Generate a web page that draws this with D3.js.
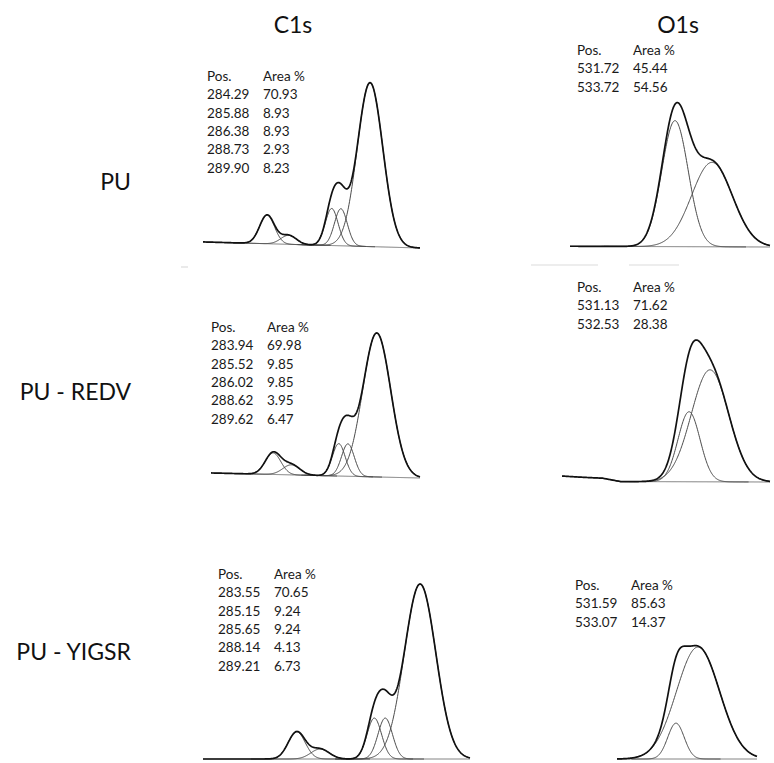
<!DOCTYPE html>
<html><head><meta charset="utf-8">
<script src="https://cdn.jsdelivr.net/npm/d3@7"></script>
<style>body{margin:0;background:#fff}svg{display:block}</style>
</head><body><svg id="c" width="774" height="763"></svg>
<script>
// ---------------- DATA ----------------
const columnTitles = ["C1s", "O1s"];
const sampleNames = ["PU", "PU - REDV", "PU - YIGSR"];
const tableHeaders = ["Pos.", "Area %"];

// C1s – PU
const c1sPU_pos    = [284.29, 285.88, 286.38, 288.73, 289.90];
const c1sPU_area   = [70.93, 8.93, 8.93, 2.93, 8.23];
const c1sPU_height = [100, 22.6, 22.6, 5.5, 17.5];      // relative intensity
const c1sPU_fwhm   = [1.63, 0.82, 0.82, 1.0, 0.95];     // eV
const c1sPU_range  = [293.39, 281.57];                  // binding energy shown (eV)
const c1sPU_bg     = [[293.39, 3.7], [281.57, 0]];

// O1s – PU
const o1sPU_pos    = [531.72, 533.72];
const o1sPU_area   = [45.44, 54.56];
const o1sPU_height = [67, 100];
const o1sPU_fwhm   = [2.6, 1.68];
const o1sPU_range  = [539.4, 528.58];
const o1sPU_bg     = [[539.4, 0.6], [528.58, 0]];

// C1s – PU-REDV
const c1sREDV_pos    = [283.94, 285.52, 286.02, 288.62, 289.62];
const c1sREDV_area   = [69.98, 9.85, 9.85, 3.95, 6.47];
const c1sREDV_height = [100, 22.5, 22.5, 7, 15];
const c1sREDV_fwhm   = [1.8, 0.82, 0.82, 1.1, 1.0];
const c1sREDV_range  = [293.02, 281.57];
const c1sREDV_bg     = [[293.02, 3.5], [281.57, 0]];

// O1s – PU-REDV
const o1sREDV_pos    = [531.13, 532.53];
const o1sREDV_area   = [71.62, 28.38];
const o1sREDV_height = [100, 62.5];
const o1sREDV_fwhm   = [2.93, 1.73];
const o1sREDV_range  = [541.0, 527.13];
const o1sREDV_bg     = [[541.0, 5.3], [539.6, 4.2], [538.3, 3.4], [537.1, 0.4], [527.13, 0]];

// C1s – PU-YIGSR
const c1sYIGSR_pos    = [283.55, 285.15, 285.65, 288.14, 289.21];
const c1sYIGSR_area   = [70.65, 9.24, 9.24, 4.13, 6.73];
const c1sYIGSR_height = [100, 23.4, 23.4, 5.7, 15.5];
const c1sYIGSR_fwhm   = [1.7, 0.78, 0.78, 1.0, 0.92];
const c1sYIGSR_range  = [293.51, 281.26];
const c1sYIGSR_bg     = [[293.51, 0], [281.26, 0]];

// O1s – PU-YIGSR
const o1sYIGSR_pos    = [531.59, 533.07];
const o1sYIGSR_area   = [85.63, 14.37];
const o1sYIGSR_height = [100, 32];
const o1sYIGSR_fwhm   = [3.4, 1.3];
const o1sYIGSR_range  = [537.03, 527.63];
const o1sYIGSR_bg     = [[537.03, 0], [527.63, 0]];

// ---------------- LAYOUT ----------------
const panels = [
  {pos:c1sPU_pos, area:c1sPU_area, h:c1sPU_height, w:c1sPU_fwhm, range:c1sPU_range, bg:c1sPU_bg,
   px:[203,420], y0:248, hPx:164, tx:207, ty:81},
  {pos:o1sPU_pos, area:o1sPU_area, h:o1sPU_height, w:o1sPU_fwhm, range:o1sPU_range, bg:o1sPU_bg,
   px:[570,770], y0:247, hPx:126, tx:577, ty:55},
  {pos:c1sREDV_pos, area:c1sREDV_area, h:c1sREDV_height, w:c1sREDV_fwhm, range:c1sREDV_range, bg:c1sREDV_bg,
   px:[211,420], y0:478, hPx:144, tx:211, ty:332},
  {pos:o1sREDV_pos, area:o1sREDV_area, h:o1sREDV_height, w:o1sREDV_fwhm, range:o1sREDV_range, bg:o1sREDV_bg,
   px:[562,770], y0:482, hPx:112, tx:577, ty:292},
  {pos:c1sYIGSR_pos, area:c1sYIGSR_area, h:c1sYIGSR_height, w:c1sYIGSR_fwhm, range:c1sYIGSR_range, bg:c1sYIGSR_bg,
   px:[203,470], y0:759, hPx:175, tx:218, ty:579},
  {pos:o1sYIGSR_pos, area:o1sYIGSR_area, h:o1sYIGSR_height, w:o1sYIGSR_fwhm, range:o1sYIGSR_range, bg:o1sYIGSR_bg,
   px:[617,757], y0:759, hPx:112, tx:575, ty:590}
];
const titleX = [293, 678], titleY = 33;
const labelX = 131, labelY = [190, 400, 660];
const rowStep = 18.3, colGap = 56;

const svg = d3.select("#c");
const FONT = "Lato, 'Open Sans', sans-serif";

// faint scan artefacts
svg.append("g").attr("stroke", "#dcdcdc").attr("stroke-width", 1.2)
  .selectAll("line").data([[531,598,265],[629,679,265],[181,188,267]]).join("line")
  .attr("x1", d => d[0]).attr("x2", d => d[1]).attr("y1", d => d[2]).attr("y2", d => d[2]);

svg.selectAll("text.title").data(columnTitles).join("text")
  .attr("class","title").attr("x", (d,i) => titleX[i]).attr("y", titleY)
  .attr("text-anchor","middle").attr("font-family",FONT).attr("font-size",23)
  .attr("fill","#111").text(d => d);

svg.selectAll("text.label").data(sampleNames).join("text")
  .attr("class","label").attr("x", labelX).attr("y", (d,i) => labelY[i])
  .attr("text-anchor","end").attr("font-family",FONT).attr("font-size",23)
  .attr("fill","#111").text(d => d);

const LN2x4 = 4 * Math.LN2;
panels.forEach(p => {
  const g = svg.append("g");
  const x = d3.scaleLinear().domain(p.range).range(p.px);
  const y = d3.scaleLinear().domain([0, 100]).range([p.y0, p.y0 - p.hPx]);
  const bgS = d3.scaleLinear().domain(p.bg.map(d => d[0])).range(p.bg.map(d => d[1])).clamp(true);
  const comp = (i, e) => p.h[i] * Math.exp(-LN2x4 * (e - p.pos[i]) ** 2 / (p.w[i] ** 2));
  const lo = Math.min(...p.range), hi = Math.max(...p.range);
  const grid = d3.range(p.px[0], p.px[1] + 0.01, 0.5).map(px => x.invert(px));
  const line = d3.line().x(d => x(d[0])).y(d => y(d[1]));

  // background
  g.append("path").attr("d", line(grid.map(e => [e, bgS(e)])))
    .attr("fill","none").attr("stroke","#666").attr("stroke-width",0.9);

  // components
  p.pos.forEach((c, i) => {
    const a = Math.max(lo, c - 2.3 * p.w[i]), b = Math.min(hi, c + 2.3 * p.w[i]);
    const pts = grid.filter(e => e >= a && e <= b).map(e => [e, bgS(e) + comp(i, e)]);
    g.append("path").attr("d", line(pts))
      .attr("fill","none").attr("stroke","#4a4a4a").attr("stroke-width",1);
  });

  // envelope
  const env = grid.map(e => [e, bgS(e) + d3.sum(p.pos, (c, i) => comp(i, e))]);
  g.append("path").attr("d", line(env))
    .attr("fill","none").attr("stroke","#111").attr("stroke-width",1.7)
    .attr("stroke-linejoin","round");

  // table
  const t = g.append("g").attr("font-family",FONT).attr("font-size",13.5).attr("fill","#1a1a1a");
  tableHeaders.forEach((h, j) => t.append("text").attr("x", p.tx + j * colGap).attr("y", p.ty).text(h));
  p.pos.forEach((c, i) => {
    t.append("text").attr("x", p.tx).attr("y", p.ty + (i + 1) * rowStep).text(c.toFixed(2));
    t.append("text").attr("x", p.tx + colGap).attr("y", p.ty + (i + 1) * rowStep).text(p.area[i].toFixed(2));
  });
});
</script></body></html>
